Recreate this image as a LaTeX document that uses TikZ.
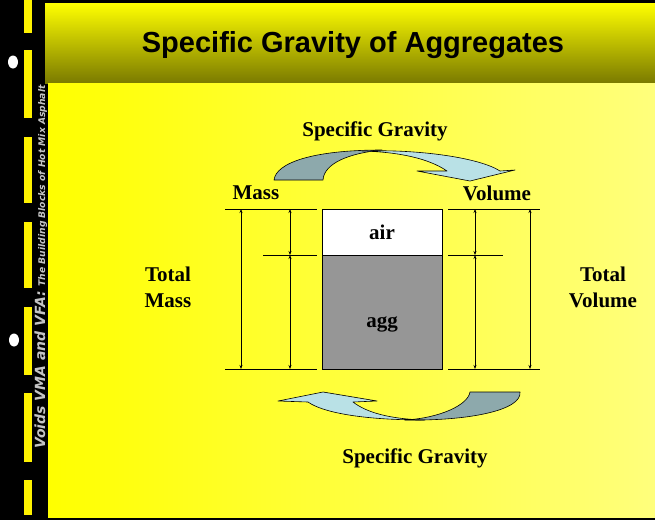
\documentclass[tikz,border=0pt]{standalone}
\usepackage{fontspec}
\setmainfont{Liberation Serif}
\newfontfamily\headfont{Liberation Sans}
\newfontfamily\sidefont{DejaVu Sans}
\usetikzlibrary{arrows.meta,positioning}
\definecolor{olivebar}{HTML}{7A7A00}
\definecolor{paleyellow}{HTML}{FFFF7C}
\definecolor{backarrow}{HTML}{8DA9AC}
\definecolor{frontarrow}{HTML}{B9E1E6}
\definecolor{aggfill}{HTML}{969696}
\definecolor{sidegray}{HTML}{C4C4C4}

\begin{document}
\begin{tikzpicture}[x=1pt,y=-1pt,
  lbl/.style={font=\bfseries\fontsize{21}{26}\selectfont,align=center,inner sep=0pt},
  cell/.style={draw,line width=0.8pt,minimum width=120pt,inner sep=0pt,font=\bfseries\fontsize{21}{26}\selectfont},
  ext/.style={line width=0.7pt},
  dim/.style={line width=0.6pt,{Stealth[length=4pt,width=3pt]}-{Stealth[length=4pt,width=3pt]}},
  curl/.style={draw,line width=0.6pt,line join=round}]
\useasboundingbox (0,0) rectangle (655,520);
% frame, title bar and body
\fill[black] (0,0) rectangle (655,520);
\shade[top color=yellow,bottom color=olivebar] (45,3) rectangle (655,83);
\shade[left color=yellow,right color=paleyellow] (48,83) rectangle (655,517);
% road strip on the left
\foreach \ya/\yb in {0/33,50/118,137/203,222/288,307/375,393/462,480/515}
  \fill[yellow] (23.5,\ya) rectangle (31.5,\yb);
\fill[white] (13,62) ellipse (5 and 6.5);
\fill[white] (14,340) ellipse (5 and 6.5);
\node[rotate=90,anchor=base west,text=sidegray,inner sep=0pt] (side) at (45,449)
  {\sidefont\bfseries\itshape\fontsize{14}{16}\selectfont Voids VMA and VFA: {\fontsize{9.2}{11}\selectfont The Building Blocks of Hot Mix Asphalt}};
\node[font=\headfont\bfseries\fontsize{29}{31}\selectfont] (title) at (353,45) {Specific Gravity of Aggregates};

% the sample
\node[cell,fill=white,minimum height=46pt] (air) at (382,232) {air};
\node[cell,fill=aggfill,minimum height=114pt,below=0pt of air] (agg) {};
\node[lbl] (aggtext) at ([yshift=-12pt]agg.center) {agg};

% dimension lines
\foreach \nm/\x in {mo/241,mi/290,vi/475,vo/530}{
  \coordinate (\nm-t) at (\x,209);
  \coordinate (\nm-m) at (\x,255);
  \coordinate (\nm-b) at (\x,369);
}
\coordinate (lt) at (225,209); \coordinate (lm) at (263,255); \coordinate (lb) at (225,369);
\coordinate (ltr) at (317,209); \coordinate (lmr) at (317,255); \coordinate (lbr) at (317,369);
\coordinate (rt) at (448,209); \coordinate (rm) at (448,255); \coordinate (rb) at (448,369);
\coordinate (rtr) at (540,209); \coordinate (rmr) at (503,255); \coordinate (rbr) at (540,369);
\draw[ext] (lt)--(ltr); \draw[ext] (lm)--(lmr); \draw[ext] (lb)--(lbr);
\draw[ext] (rt)--(rtr); \draw[ext] (rm)--(rmr); \draw[ext] (rb)--(rbr);
\draw[dim] (mo-t)--(mo-b); \draw[dim] (mi-t)--(mi-m); \draw[dim] (mi-m)--(mi-b);
\draw[dim] (vo-t)--(vo-b); \draw[dim] (vi-t)--(vi-m); \draw[dim] (vi-m)--(vi-b);

% labels
\node[lbl] (mass) at (256,193) {Mass};
\node[lbl] (volume) at (497,193) {Volume};
\node[lbl] (totmass) at (168,287) {Total\\Mass};
\node[lbl] (totvol) at (603,287) {Total\\Volume};
\node[lbl] (sgtop) at (375,131) {Specific Gravity};
\node[lbl] (sgbot) at (415,458) {Specific Gravity};

% curved arrow, mass to volume
\path[curl,fill=backarrow] (274,180) .. controls (276,163) and (312,150) .. (382,150)
  .. controls (350,153) and (324,163) .. (323,180) -- cycle;
\path[curl,fill=frontarrow] (362,151) .. controls (420,149) and (480,158) .. (500,171)
  -- (515,170) -- (470,181) -- (417,171) -- (447,171)
  .. controls (428,158) and (398,152) .. (362,151) -- cycle;
% curved arrow, volume to mass
\path[curl,fill=backarrow] (470,392) -- (520,392) .. controls (522,410) and (470,421) .. (405,420)
  .. controls (440,418) and (468,405) .. (470,392) -- cycle;
\path[curl,fill=frontarrow] (278,401) -- (323,392) -- (377,401) -- (353,402)
  .. controls (366,412) and (388,419) .. (425,420)
  .. controls (360,420) and (322,412) .. (308,402) -- cycle;
\end{tikzpicture}
\end{document}
